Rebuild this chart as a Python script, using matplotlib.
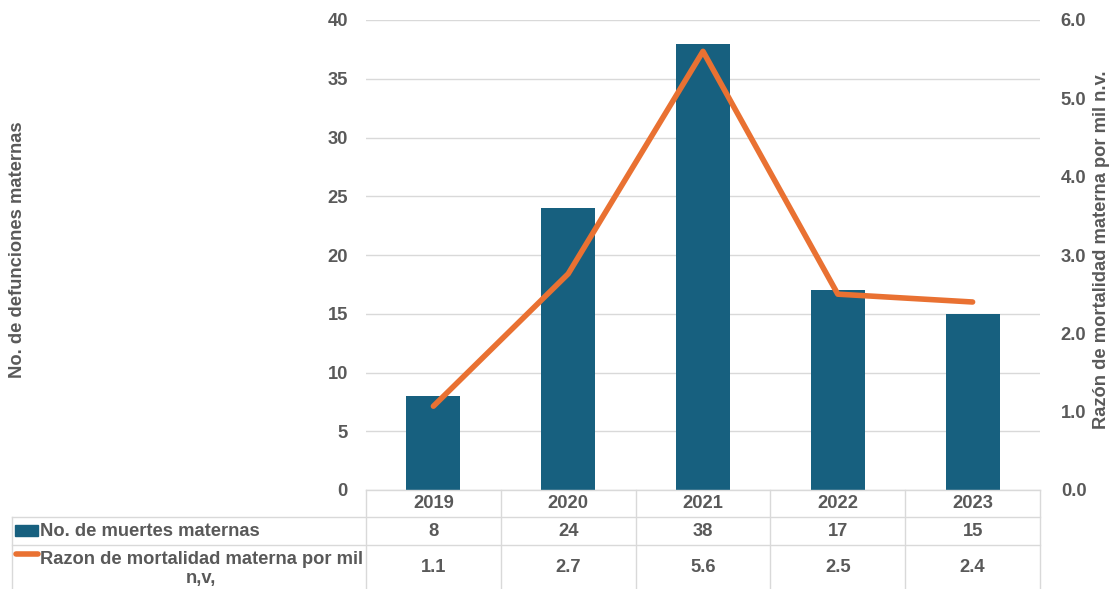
import matplotlib.pyplot as plt
import matplotlib.transforms as mtransforms
from matplotlib.lines import Line2D
from matplotlib.patches import Rectangle

years = ["2019", "2020", "2021", "2022", "2023"]
deaths = [8, 24, 38, 17, 15]
rate = [1.07, 2.76, 5.6, 2.5, 2.4]
rate_labels = ["1.1", "2.7", "5.6", "2.5", "2.4"]

blue = "#17607f"
orange = "#e97132"
gray = "#595959"
grid = "#d9d9d9"
fs = 13.2

plt.rcParams["font.family"] = ["Liberation Sans", "DejaVu Sans"]
plt.rcParams["font.weight"] = "bold"

W, H = 1114, 589
fig = plt.figure(figsize=(W / 100, H / 100), dpi=100)
ax = fig.add_axes([366 / W, 1 - 490 / H, (1040 - 366) / W, (490 - 20) / H])
ax2 = ax.twinx()

x = range(len(years))
ax.bar(x, deaths, width=0.4, color=blue, zorder=2)
ax2.plot(x, rate, color=orange, lw=4, solid_capstyle="round",
         solid_joinstyle="round", zorder=3)

ax.set_xlim(-0.5, len(years) - 0.5)
ax.set_ylim(0, 40)
ax.set_yticks(range(0, 41, 5))
ax2.set_ylim(0, 6)
ax2.set_yticks(range(7))
ax2.set_yticklabels([f"{i:.1f}" for i in range(7)])
ax.set_xticks([])
ax.yaxis.grid(True, color=grid, lw=1)
ax.set_axisbelow(True)
for a in (ax, ax2):
    for s in a.spines.values():
        s.set_visible(False)
    a.tick_params(length=0, labelsize=fs, labelcolor=gray)
ax.tick_params(axis="y", pad=13)
ax2.tick_params(axis="y", pad=15)

fig.text(18 / W, 1 - 250 / H, "No. de defunciones maternas", rotation=90,
         ha="center", va="center", fontsize=fs, color=gray, fontweight="bold")
fig.text(1101 / W, 1 - 250 / H, "Razón de mortalidad materna por mil n.v.", rotation=90,
         ha="center", va="center", fontsize=fs, color=gray, fontweight="bold")

# data table below the chart
tr = mtransforms.blended_transform_factory(ax.transData, fig.transFigure)
def fy(py):
    return 1 - py / H

kw = dict(color=grid, lw=1, transform=fig.transFigure, clip_on=False)
fig.add_artist(Line2D([366 / W, 1040 / W], [fy(490), fy(490)], **kw))
for py in (517, 545):
    fig.add_artist(Line2D([12 / W, 1040 / W], [fy(py), fy(py)], **kw))
fig.add_artist(Line2D([12 / W, 12 / W], [fy(517), fy(589)], **kw))
for i in range(len(years) + 1):
    xd = i - 0.5
    fig.add_artist(Line2D([xd, xd], [fy(490), fy(589)], color=grid, lw=1,
                          transform=tr, clip_on=False))

tkw = dict(ha="center", va="center", fontsize=fs, color=gray,
           fontweight="bold", transform=tr)
for i in x:
    fig.text(i, fy(504), years[i], **tkw)
    fig.text(i, fy(531), str(deaths[i]), **tkw)
    fig.text(i, fy(567), rate_labels[i], **tkw)

fig.add_artist(Rectangle((15 / W, fy(536)), 23 / W, 11 / H, color=blue,
                         transform=fig.transFigure))
fig.add_artist(Line2D([16 / W, 38 / W], [fy(554), fy(554)], color=orange, lw=4,
                      solid_capstyle="round", transform=fig.transFigure))
fig.text(40 / W, fy(531), "No. de muertes maternas", ha="left", va="center",
         fontsize=fs, color=gray, fontweight="bold")
fig.text(201 / W, fy(569), "Razon de mortalidad materna por mil\nn,v,", ha="center",
         va="center", fontsize=fs, color=gray, fontweight="bold", linespacing=1.15)

fig.savefig("out.png", dpi=100)
